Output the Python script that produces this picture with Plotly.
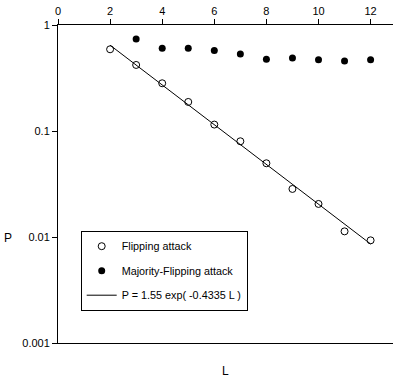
import plotly.graph_objects as go

L_flip = [2, 3, 4, 5, 6, 7, 8, 9, 10, 11, 12]
P_flip = [0.59, 0.42, 0.282, 0.188, 0.115, 0.080, 0.0496, 0.0284, 0.0205, 0.0113, 0.0093]

L_maj = [3, 4, 5, 6, 7, 8, 9, 10, 11, 12]
P_maj = [0.738, 0.604, 0.604, 0.574, 0.533, 0.474, 0.488, 0.471, 0.457, 0.471]

L_fit = [2, 12]
P_fit = [0.645, 0.0086]

x_ticks = [0, 2, 4, 6, 8, 10, 12]
y_ticks = [0.001, 0.01, 0.1, 1]
y_labels = ["0.001", "0.01", "0.1", "1"]

FONT = "Liberation Sans, Arial, sans-serif"

fig = go.Figure()
fig.add_trace(go.Scatter(x=L_flip, y=P_flip, mode="markers", name="Flipping attack",
                         legendgroup="a",
                         marker=dict(symbol="circle-open", size=7, color="black",
                                     line=dict(width=1, color="black"))))
fig.add_trace(go.Scatter(x=L_maj, y=P_maj, mode="markers", name="Majority-Flipping attack",
                         legendgroup="b",
                         marker=dict(symbol="circle", size=7, color="black")))
fig.add_trace(go.Scatter(x=L_fit, y=P_fit, mode="lines", name="P = 1.55 exp( -0.4335 L )",
                         legendgroup="c",
                         line=dict(color="black", width=1)))

fig.update_layout(
    width=393, height=381,
    margin=dict(l=58, r=0, t=25, b=38),
    paper_bgcolor="white", plot_bgcolor="white",
    font=dict(family=FONT, size=11, color="black"),
    showlegend=True,
    legend=dict(x=(80.7 - 58) / 335, y=(343 - 230.7) / 318, xanchor="left", yanchor="top",
                bordercolor="black", borderwidth=1, bgcolor="white",
                font=dict(size=10.8), tracegroupgap=5.5, itemwidth=30),
    xaxis=dict(side="top", range=[0, 12.86], tickvals=x_ticks,
               showline=True, linecolor="black", linewidth=1, mirror=True,
               ticks="outside", ticklen=5, tickcolor="black",
               showgrid=False, zeroline=False),
    yaxis=dict(type="log", range=[-3, 0], tickvals=y_ticks, ticktext=y_labels,
               showline=True, linecolor="black", linewidth=1,
               ticks="outside", ticklen=5, tickcolor="black",
               showgrid=False, zeroline=False),
    annotations=[
        dict(text="L", x=0.5, y=-0.06, xref="paper", yref="paper",
             showarrow=False, xanchor="center", yanchor="top", font=dict(size=12)),
        dict(text="P", x=(8 - 58) / 335, y=(343 - 238) / 318, xref="paper", yref="paper",
             showarrow=False, xanchor="center", yanchor="middle", font=dict(size=12)),
    ],
)

fig.write_html("out.html", config={"displayModeBar": False},
               post_script="document.body.style.margin='0';document.body.style.overflow='hidden';")
